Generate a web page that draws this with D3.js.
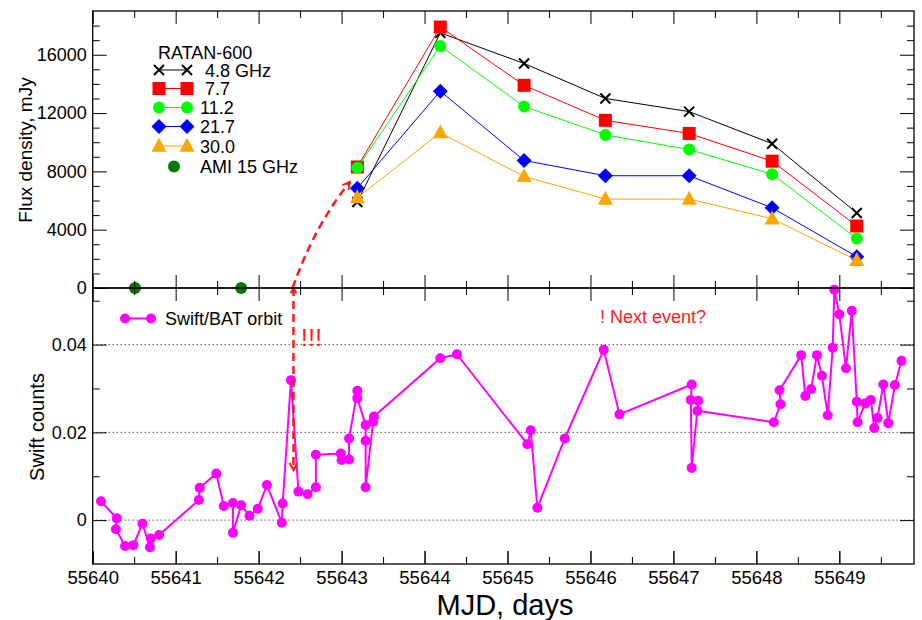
<!DOCTYPE html>
<html>
<head>
<meta charset="utf-8">
<script src="https://cdn.jsdelivr.net/npm/d3@7"></script>
<style>
  body { margin: 0; background: #fff; }
  svg { font-family: "Liberation Sans", Arial, Helvetica, sans-serif; }
  text { white-space: pre; }
</style>
</head>
<body>
<svg id="chart" width="922" height="620"></svg>
<script>
// RATAN-600 epochs (MJD) and flux densities (mJy) per frequency
const ratanMJD = [55643.19, 55644.19, 55645.20, 55646.18, 55647.19, 55648.19, 55649.21];
const flux48  = [5900, 17500, 15400, 13000, 12100, 9900, 5150];
const flux77  = [8300, 17900, 13900, 11500, 10600, 8700, 4250];
const flux112 = [8250, 16600, 12450, 10500, 9500, 7800, 3400];
const flux217 = [6850, 13500, 8750, 7700, 7700, 5500, 2150];
const flux300 = [6200, 10650, 7650, 6100, 6100, 4750, 1900];
const seriesLabels = [" 4.8 GHz", " 7.7", "11.2", "21.7", "30.0"];

// AMI 15 GHz
const amiMJD  = [55640.51, 55641.79];
const amiFlux = [0, 0];

// Swift/BAT orbit-averaged counts
const swiftMJD = [
  55640.10, 55640.29, 55640.28, 55640.39, 55640.49, 55640.60, 55640.69, 55640.70, 55640.80,
  55641.28, 55641.29, 55641.49, 55641.58, 55641.69, 55641.69, 55641.79, 55641.89, 55641.99, 55642.10,
  55642.28, 55642.29, 55642.39, 55642.48, 55642.59, 55642.69, 55642.69,
  55642.99, 55643.00, 55643.09, 55643.09, 55643.19, 55643.19, 55643.29, 55643.29, 55643.29, 55643.38, 55643.39,
  55644.19, 55644.39, 55645.24, 55645.28, 55645.36, 55645.69, 55646.16, 55646.35,
  55647.22, 55647.21, 55647.22, 55647.30, 55647.29,
  55648.21, 55648.29, 55648.28, 55648.54, 55648.59, 55648.66, 55648.73, 55648.79, 55648.86, 55648.92,
  55648.94, 55649.00, 55649.08, 55649.15, 55649.21, 55649.22, 55649.31, 55649.38, 55649.42, 55649.46,
  55649.53, 55649.59, 55649.67, 55649.75
];
const swiftCounts = [
  0.0043, 0.0004, -0.0021, -0.0059, -0.0057, -0.0008, -0.0062, -0.0042, -0.0034,
  0.0046, 0.0074, 0.0106, 0.0032, 0.0039, -0.0029, 0.0034, 0.0010, 0.0026, 0.0080,
  -0.0006, 0.0038, 0.0319, 0.0065, 0.0059, 0.0075, 0.0149,
  0.0152, 0.0137, 0.0138, 0.0186, 0.0295, 0.0278, 0.0217, 0.0181, 0.0075, 0.0224, 0.0236,
  0.0369, 0.0378, 0.0173, 0.0205, 0.0028, 0.0186, 0.0388, 0.0241,
  0.0309, 0.0274, 0.0119, 0.0272, 0.0249,
  0.0223, 0.0264, 0.0296, 0.0376, 0.0283, 0.0299, 0.0376, 0.0329, 0.0239, 0.0393,
  0.0525, 0.0469, 0.0346, 0.0477, 0.0270, 0.0223, 0.0266, 0.0274, 0.0210, 0.0233,
  0.0309, 0.0221, 0.0308, 0.0363
];

// Axis ticks
const mjdTicks      = [55640, 55641, 55642, 55643, 55644, 55645, 55646, 55647, 55648, 55649];
const mjdMinorTicks = [55640.5, 55641.5, 55642.5, 55643.5, 55644.5, 55645.5, 55646.5, 55647.5, 55648.5, 55649.5];
const fluxTicks      = [0, 4000, 8000, 12000, 16000];
const fluxMinorTicks = [1000, 2000, 3000, 5000, 6000, 7000, 9000, 10000, 11000, 13000, 14000, 15000, 17000, 18000];
const countTicks      = [0, 0.02, 0.04];
const countMinorTicks = [0.01, 0.03, 0.05];

// Annotation anchors: rise arrow (MJD, mJy) and Swift flare marker (MJD, counts)
const riseArrow  = [[55642.41, 0], [55642.67, 4250], [55643.10, 7270]];
const flareArrow = [[55642.42, 0.0529], [55642.42, 0.0114]];

const svg = d3.select("#chart");
const L = 92.7, R = 914, T = 11, M = 288, B = 564;

const x = d3.scaleLinear().domain([55640, 55649.9]).range([L, R]);
const yTop = d3.scaleLinear().domain([0, 19000]).range([M, T]);
const yBot = d3.scaleLinear().domain([-0.01, 0.0529]).range([B, M]);

// Marker shapes
const markers = {
  cross: s => `M${-s},${-s}L${s},${s}M${-s},${s}L${s},${-s}`,
  square: s => `M${-s},${-s}H${s}V${s}H${-s}Z`,
  circle: s => `M${-s},0A${s},${s} 0 1,0 ${s},0A${s},${s} 0 1,0 ${-s},0Z`,
  diamond: s => `M0,${-s}L${s},0L0,${s}L${-s},0Z`,
  triangle: s => `M0,${-s * 1.1}L${s},${s * 0.75}L${-s},${s * 0.75}Z`
};

const series = [
  { values: flux48,  color: "#000000", shape: "cross",    size: 5,   stroke: true },
  { values: flux77,  color: "#ff0000", shape: "square",   size: 6.5 },
  { values: flux112, color: "#00ff00", shape: "circle",   size: 6 },
  { values: flux217, color: "#0000ff", shape: "diamond",  size: 7.5 },
  { values: flux300, color: "#ffa500", shape: "triangle", size: 7.5 }
];

function drawMarker(g, shape, size, color, stroke, cx, cy) {
  const p = g.append("path")
    .attr("d", markers[shape](size))
    .attr("transform", `translate(${cx},${cy})`);
  if (stroke) p.attr("fill", "none").attr("stroke", color).attr("stroke-width", 2);
  else p.attr("fill", color).attr("stroke", "none");
}

// ---------- Top panel: radio light curves ----------
const gTop = svg.append("g");
series.forEach(s => {
  const pts = ratanMJD.map((t, i) => [x(t), yTop(s.values[i])]);
  gTop.append("path")
    .attr("d", d3.line()(pts))
    .attr("fill", "none")
    .attr("stroke", s.color)
    .attr("stroke-width", 1);
  pts.forEach(p => drawMarker(gTop, s.shape, s.size, s.color, s.stroke, p[0], p[1]));
});
amiMJD.forEach((t, i) => drawMarker(gTop, "circle", 6, "#007a00", false, x(t), yTop(amiFlux[i])));

// Legend
const lg = svg.append("g");
lg.append("text").attr("x", 158).attr("y", 59).attr("font-size", 18).text("RATAN-600");
const rowY = [70, 88.5, 107.5, 126.5, 146];
series.forEach((s, i) => {
  lg.append("line").attr("x1", 159).attr("x2", 187).attr("y1", rowY[i]).attr("y2", rowY[i])
    .attr("stroke", s.color).attr("stroke-width", 1);
  drawMarker(lg, s.shape, s.size, s.color, s.stroke, 159, rowY[i]);
  drawMarker(lg, s.shape, s.size, s.color, s.stroke, 187, rowY[i]);
  lg.append("text").attr("x", 200).attr("y", rowY[i] + 6.5).attr("font-size", 18).text(seriesLabels[i]);
});
drawMarker(lg, "circle", 6, "#007a00", false, 174, 166.5);
lg.append("text").attr("x", 200).attr("y", 173).attr("font-size", 18).text("AMI 15 GHz");

// ---------- Bottom panel: Swift/BAT ----------
const gBot = svg.append("g");
countTicks.forEach(v => {
  gBot.append("line").attr("x1", L).attr("x2", R).attr("y1", yBot(v)).attr("y2", yBot(v))
    .attr("stroke", "#000").attr("stroke-width", 1).attr("stroke-dasharray", "1,3");
});
const swiftPts = swiftMJD.map((t, i) => [x(t), yBot(swiftCounts[i])]);
gBot.append("path")
  .attr("d", d3.line()(swiftPts))
  .attr("fill", "none")
  .attr("stroke", "#ff00ff")
  .attr("stroke-width", 2)
  .attr("stroke-linejoin", "round");
swiftPts.forEach(p => drawMarker(gBot, "circle", 5, "#ff00ff", false, p[0], p[1]));

// Swift legend
const sy = 318.5;
gBot.append("line").attr("x1", 125).attr("x2", 151).attr("y1", sy).attr("y2", sy)
  .attr("stroke", "#ff00ff").attr("stroke-width", 2);
drawMarker(gBot, "circle", 5, "#ff00ff", false, 125, sy);
drawMarker(gBot, "circle", 5, "#ff00ff", false, 151, sy);
gBot.append("text").attr("x", 165).attr("y", sy + 6.3).attr("font-size", 18).text("Swift/BAT orbit");

// ---------- Annotations ----------
const red = "#ff1a1a";
const ann = svg.append("g").attr("fill", "none").attr("stroke", red).attr("stroke-width", 2.5);
const c = riseArrow.map(d => [x(d[0]), yTop(d[1])]);
const rp = d3.path();
rp.moveTo(c[0][0], c[0][1]);
rp.quadraticCurveTo(c[1][0], c[1][1], c[2][0], c[2][1]);
ann.append("path").attr("d", rp.toString()).attr("stroke-dasharray", "8,5");
// open arrowhead at a line end
function arrowHead(tip, from, len) {
  const a = Math.atan2(tip[1] - from[1], tip[0] - from[0]);
  const p1 = [tip[0] - len * Math.cos(a - 0.5), tip[1] - len * Math.sin(a - 0.5)];
  const p2 = [tip[0] - len * Math.cos(a + 0.5), tip[1] - len * Math.sin(a + 0.5)];
  ann.append("path").attr("d", `M${p1}L${tip}L${p2}`).attr("stroke-width", 2);
}
arrowHead(c[2], c[1], 8);

const f = flareArrow.map(d => [x(d[0]), yBot(d[1])]);
ann.append("line").attr("x1", f[0][0]).attr("y1", f[0][1]).attr("x2", f[1][0]).attr("y2", f[1][1])
  .attr("stroke-dasharray", "8,5");
arrowHead(f[1], f[0], 8);
arrowHead(f[0], f[1], 6);

svg.append("text").attr("x", 301).attr("y", 346).attr("font-size", 24).attr("fill", red)
  .attr("letter-spacing", 0.5).text("!!!");
svg.append("text").attr("x", 600).attr("y", 323).attr("font-size", 18).attr("fill", red).text("! Next event?");

// ---------- Axes (inward ticks on all sides) ----------
function tickAxis(axisFn, scale, values, size, transform, fmt, pad) {
  const a = axisFn(scale).tickValues(values).tickSize(size).tickPadding(pad || 0)
    .tickFormat(fmt || (() => ""));
  const g = svg.append("g").attr("transform", transform).call(a);
  g.select(".domain").remove();
  g.selectAll("line").attr("stroke", "#000").attr("stroke-width", 1);
  g.selectAll("text").attr("fill", "#000").attr("font-family", null);
  return g;
}
// x ticks: top of top panel, both sides of the middle line, bottom of bottom panel
[[d3.axisTop, T], [d3.axisBottom, M], [d3.axisTop, M], [d3.axisBottom, B]].forEach(([fn, yy]) => {
  tickAxis(fn, x, mjdTicks, -13, `translate(0,${yy})`);
  tickAxis(fn, x, mjdMinorTicks, -7, `translate(0,${yy})`);
});
const xl = tickAxis(d3.axisBottom, x, mjdTicks, -13, `translate(0,${B})`, d3.format("d"), 7);
xl.attr("font-size", 18.5);

// y ticks, top panel
const ylTop = tickAxis(d3.axisLeft, yTop, fluxTicks, -14, `translate(${L},0)`, d3.format("d"), 6);
ylTop.attr("font-size", 18);
tickAxis(d3.axisLeft, yTop, fluxMinorTicks, -7, `translate(${L},0)`);
tickAxis(d3.axisRight, yTop, fluxTicks, -14, `translate(${R},0)`);
tickAxis(d3.axisRight, yTop, fluxMinorTicks, -7, `translate(${R},0)`);

// y ticks, bottom panel
const ylBot = tickAxis(d3.axisLeft, yBot, countTicks, -14, `translate(${L},0)`, d => d === 0 ? "0" : d3.format(".2f")(d), 6);
ylBot.attr("font-size", 18);
tickAxis(d3.axisLeft, yBot, countMinorTicks, -7, `translate(${L},0)`);
tickAxis(d3.axisRight, yBot, countTicks, -14, `translate(${R},0)`);
tickAxis(d3.axisRight, yBot, countMinorTicks, -7, `translate(${R},0)`);

// Panel frames
svg.append("rect").attr("x", L).attr("y", T).attr("width", R - L).attr("height", M - T)
  .attr("fill", "none").attr("stroke", "#000").attr("stroke-width", 1.3);
svg.append("rect").attr("x", L).attr("y", M).attr("width", R - L).attr("height", B - M)
  .attr("fill", "none").attr("stroke", "#000").attr("stroke-width", 1.3);

// Axis titles
svg.append("text").attr("transform", "translate(32,150) rotate(-90)")
  .attr("text-anchor", "middle").attr("font-size", 19).text("Flux density, mJy");
svg.append("text").attr("transform", "translate(44,427) rotate(-90)")
  .attr("text-anchor", "middle").attr("font-size", 20).text("Swift counts");
svg.append("text").attr("x", 505).attr("y", 615)
  .attr("text-anchor", "middle").attr("font-size", 29).text("MJD, days");
</script>
</body>
</html>
